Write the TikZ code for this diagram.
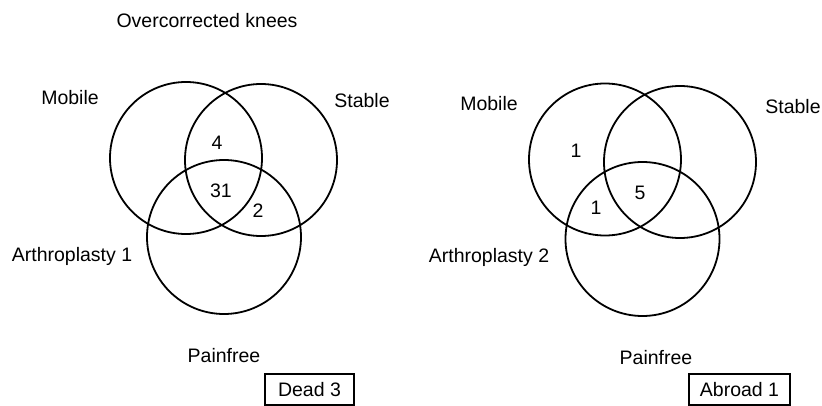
\documentclass[tikz,border=0pt]{standalone}
\usepackage{fontspec}
\setmainfont{Liberation Sans}
\begin{document}
\begin{tikzpicture}[x=1pt,y=-1pt,
  lbl/.style={font=\fontsize{19.5}{23}\selectfont, inner sep=0pt},
  ring/.style={line width=1.8pt},
  tag/.style={draw, line width=1.5pt, minimum width=89pt, minimum height=31pt, inner sep=0pt, font=\fontsize{19.5}{23}\selectfont}]
\useasboundingbox (0,0) rectangle (822,406);
% left panel
\node[lbl] (title) at (207,21) {Overcorrected knees};
\draw[ring] (186,158) circle (76);
\draw[ring] (261,160) circle (76);
\draw[ring] (224,237) circle (77);
\node[lbl] (mob1) at (70,98) {Mobile};
\node[lbl] (stab1) at (362,101) {Stable};
\node[lbl] (arth1) at (72,256) {Arthroplasty 1};
\node[lbl] (pain1) at (224,356) {Painfree};
\node[lbl] (n4) at (217,143) {4};
\node[lbl] (n31) at (221,191) {31};
\node[lbl] (n2) at (258,211) {2};
\node[tag] (dead) at (309.5,389.5) {Dead 3};
% right panel
\draw[ring] (605,159.5) circle (76);
\draw[ring] (680,162) circle (76);
\draw[ring] (642.5,239) circle (77);
\node[lbl] (mob2) at (489,104) {Mobile};
\node[lbl] (stab2) at (793,107) {Stable};
\node[lbl] (arth2) at (489,257) {Arthroplasty 2};
\node[lbl] (pain2) at (656,358) {Painfree};
\node[lbl] (r1a) at (576,151) {1};
\node[lbl] (r5) at (640,193) {5};
\node[lbl] (r1b) at (596,208) {1};
\node[tag, minimum width=101pt] (abroad) at (739.5,389.5) {Abroad 1};
\end{tikzpicture}
\end{document}
